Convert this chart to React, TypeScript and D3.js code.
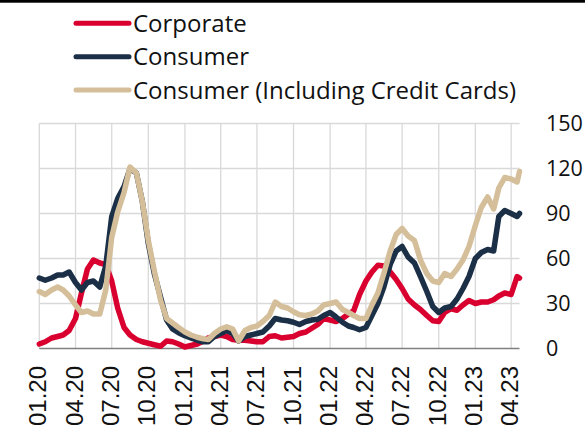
import React, { useEffect, useRef } from 'react';
import * as d3 from 'd3';

// half-monthly readings, 1 Jan 2020 .. 16 Apr 2023, plus the last print on 22 Apr 2023
const corporate = [
  3, 4.5, 7, 8, 9, 12, 20, 37, 53, 59, 57, 56, 45, 27, 14, 9, 6, 4.5, 3.5, 2.5, 1.5, 5, 4.5, 3,
  1, 2, 3, 5, 7, 8, 9, 8, 6, 5.5, 5.5, 5, 4.5, 4.5, 8, 8.5, 7, 7.5, 8, 10, 11, 13.5, 16, 20,
  19, 18, 20, 23, 25, 36, 45, 51, 55.5, 55, 51, 46, 40, 33, 29, 26, 22, 18.5, 18, 24, 26.5, 25.5, 29, 32,
  30, 31, 31, 32.5, 35, 37, 36, 48, 47,
];
const consumer = [
  47, 45.5, 47, 49, 49, 51, 44, 39, 44, 45, 41, 55, 88, 100, 108, 120, 117, 98, 70, 50, 34, 19, 13, 10.5,
  8.5, 7, 5.5, 4.5, 4.5, 8, 10, 12, 10, 5, 8, 9, 10, 11, 15, 20, 19, 18.5, 17.5, 16, 18, 19, 19.5, 22,
  24, 21, 17.5, 15, 14, 12.5, 14, 22, 30, 41, 56, 65, 68, 61, 57, 48, 38, 28, 24, 27, 28, 33, 40, 48,
  60, 64, 66, 65, 88, 92, 90, 88, 90,
];
const consumerCC = [
  38, 36, 39, 41, 39, 35, 29, 24, 25, 23, 23, 39, 74, 91, 104, 121, 117, 98, 72, 52, 32, 20, 17, 14,
  11, 9, 7.5, 6.5, 6, 10, 13, 14.5, 13, 5, 12, 14, 15, 18, 22, 31, 28, 27, 24.5, 22.5, 22, 23, 25, 29,
  30, 31, 26, 24, 22, 20, 20, 29, 37, 50, 65, 76, 80, 75, 72, 59, 50, 45, 44, 50, 48, 53, 59, 68,
  82, 94, 101, 93, 107, 114, 113, 111, 118,
];
const seriesNames = ['Corporate', 'Consumer', 'Consumer (Including Credit Cards)'];
const seriesColors = ['#d9002f', '#1b2f47', '#d5bf9a'];
const yTicks = [0, 30, 60, 90, 120, 150];

const dates = corporate.map((_, i) =>
  i < 80 ? new Date(2020, Math.floor(i / 2), i % 2 ? 16 : 1) : new Date(2023, 3, 22));

export default function App() {
  const ref = useRef<SVGSVGElement>(null);

  useEffect(() => {
    const w = 585, h = 430;
    const svg = d3.select(ref.current);
    svg.selectAll('*').remove();

    const x = d3.scaleTime()
      .domain([dates[0], dates[dates.length - 1]])
      .range([39.3, 519.5]);
    const y = d3.scaleLinear().domain([0, 150]).range([348.5, 123.5]);

    // top rule
    svg.append('rect').attr('x', 0).attr('y', 0).attr('width', w).attr('height', 2.7).attr('fill', '#000');

    const quarters = d3.timeMonth.every(3)!.range(dates[0], dates[dates.length - 1]);

    // grid
    svg.append('g').selectAll('line.v')
      .data(quarters)
      .enter().append('line')
      .attr('x1', d => x(d)).attr('x2', d => x(d))
      .attr('y1', y(150)).attr('y2', y(0))
      .attr('stroke', '#d9d9d9').attr('stroke-width', 1.3);

    svg.append('g').selectAll('line.h')
      .data(yTicks.filter(t => t > 0))
      .enter().append('line')
      .attr('x1', x.range()[0]).attr('x2', x.range()[1])
      .attr('y1', d => y(d)).attr('y2', d => y(d))
      .attr('stroke', '#d9d9d9').attr('stroke-width', 1.3);

    svg.append('line')
      .attr('x1', x.range()[0]).attr('x2', x.range()[1])
      .attr('y1', y(0)).attr('y2', y(0))
      .attr('stroke', '#808080').attr('stroke-width', 1.6);

    // y labels on the right
    svg.append('g').selectAll('text')
      .data(yTicks)
      .enter().append('text')
      .attr('x', 546)
      .attr('y', d => y(d) + 7.7)
      .attr('font-family', '"Open Sans", sans-serif')
      .attr('font-size', 21.5)
      .attr('fill', '#111')
      .text(d => d);

    // x labels, rotated
    svg.append('g').selectAll('text')
      .data(quarters)
      .enter().append('text')
      .attr('transform', d => `translate(${x(d) - 1.5},366) rotate(-90)`)
      .attr('text-anchor', 'end')
      .attr('dominant-baseline', 'central')
      .attr('font-family', '"Liberation Sans", Arial, sans-serif')
      .attr('font-size', 24)
      .attr('fill', '#111')
      .text(d => d3.timeFormat('%m.%y')(d));

    // lines
    const all = [corporate, consumer, consumerCC];
    const line = d3.line<number>()
      .x((_, i) => x(dates[i]))
      .y(d => y(d))
      .curve(d3.curveLinear);

    all.forEach((vals, k) => {
      svg.append('path')
        .attr('d', line(vals))
        .attr('fill', 'none')
        .attr('stroke', seriesColors[k])
        .attr('stroke-width', 5.5)
        .attr('stroke-linejoin', 'round')
        .attr('stroke-linecap', 'round');
    });

    // legend
    const lg = svg.append('g');
    seriesNames.forEach((name, k) => {
      const ly = 23.3 + k * 33.4;
      lg.append('line')
        .attr('x1', 76).attr('x2', 129)
        .attr('y1', ly).attr('y2', ly)
        .attr('stroke', seriesColors[k])
        .attr('stroke-width', 5)
        .attr('stroke-linecap', 'round');
      lg.append('text')
        .attr('x', 133)
        .attr('y', ly + 8.6)
        .attr('font-family', '"Open Sans", sans-serif')
        .attr('font-size', 24)
        .attr('fill', '#111')
        .text(name);
    });
  }, []);

  return (
    <svg ref={ref} width={585} height={430}
      style={{ position: 'absolute', left: 0, top: 0, background: '#fff' }} />
  );
}
